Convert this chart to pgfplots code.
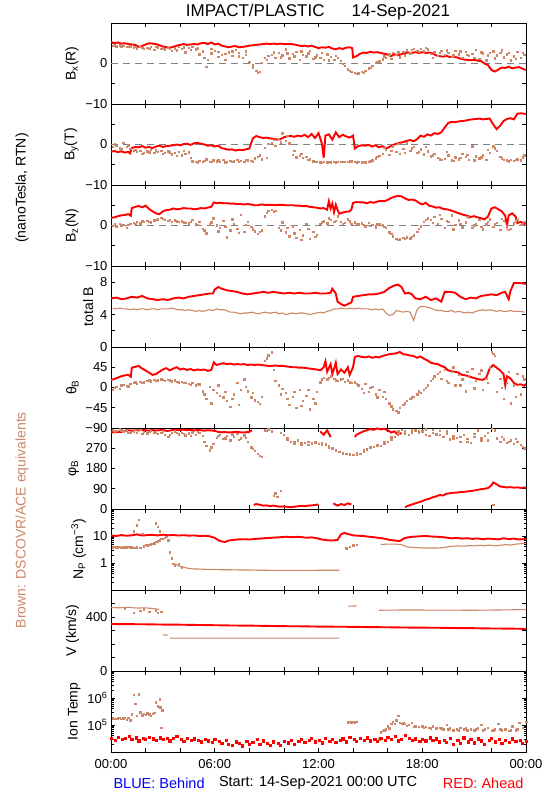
\documentclass[border=0pt]{standalone}
\usepackage{fontspec}
\setmainfont{Liberation Sans}
\usepackage{pgfplots}
\pgfplotsset{compat=1.18}
\definecolor{brn}{RGB}{205,135,105}
\pgfplotsset{
  panel/.style={scale only axis, width=415pt, height=81pt, anchor=north west,
    xmin=0, xmax=24, xtick={0,2,...,24}, xticklabels={},
    tick align=inside, tick pos=both, major tick length=4pt, minor tick length=2.5pt,
    axis line style={line width=0.8pt},
    every tick/.append style={black, line width=0.6pt},
    yticklabel style={font=\fontsize{13}{13}\selectfont},
    xticklabel style={font=\fontsize{13}{13}\selectfont, yshift=-4pt},
    ylabel style={font=\fontsize{14}{14}\selectfont},
    scaled y ticks=false},
  rd/.style={red, line width=1.9pt, line join=miter, unbounded coords=jump},
  bm/.style={brn, only marks, mark=square*, mark size=0.7pt},
  bl/.style={brn, line width=1.1pt, unbounded coords=jump},
  zl/.style={gray, line width=0.8pt, dash pattern=on 7pt off 5pt},
}
\begin{document}
\begin{tikzpicture}
\useasboundingbox (0,0) rectangle (550pt,800pt);
\node[font=\fontsize{17}{17}\selectfont] at (318pt,788pt) {IMPACT/PLASTIC\hspace{1.6em}14-Sep-2021};
\node[rotate=90, font=\fontsize{14}{14}\selectfont] at (22pt,612pt) {(nanoTesla, RTN)};
\node[rotate=90, font=\fontsize{14}{14}\selectfont, text=brn] at (22pt,280pt) {Brown: DSCOVR/ACE equivalents};
\node[anchor=west, font=\fontsize{14.5}{14.5}\selectfont, text=blue] at (110pt,17pt) {BLUE: Behind};
\node[font=\fontsize{14.5}{14.5}\selectfont] at (318pt,17pt) {Start: 14-Sep-2021 00:00 UTC};
\node[anchor=east, font=\fontsize{14.5}{14.5}\selectfont, text=red] at (527pt,17pt) {RED: Ahead};

% ---------- Bx ----------
\begin{axis}[panel, at={(111pt,777pt)}, ymin=-10, ymax=10, ytick={-10,-5,0,5,10}, yticklabels={−10,,0,,}, ylabel={B\textsubscript{x}(R)}]
\addplot[zl] coordinates {(0,0) (24,0)};
\addplot[bm] coordinates {(0.1,4.4)(0.3,4.3)(0.5,4.5)(0.7,4.4)(0.9,4.2)(1.1,4.3)(1.3,4.0)(1.5,3.8)(1.7,4.1)(1.9,3.6)(2.1,3.9)(2.3,4.2)(2.5,3.4)(2.7,4.0)(2.9,3.7)(3.1,3.5)(3.3,3.9)(3.5,3.2)(3.7,3.8)(3.9,4.1)(4.1,3.6)(4.3,2.8)(4.5,3.9)(4.7,4.2)(4.9,3.5)(5.1,2.3)(5.3,3.0)(5.5,-0.8)(5.6,0.9)(5.8,2.5)(6.0,3.2)(6.2,1.7)(6.4,2.2)(6.6,1.0)(6.8,2.8)(7.0,1.9)(7.2,3.4)(7.4,2.6)(7.6,1.5)(7.8,3.0)(8.0,0.5)(8.2,-1.0)(8.4,-1.8)(8.5,-2.3)(8.7,0.2)(8.9,1.5)(9.1,1.9)(9.3,2.2)(9.5,1.4)(9.7,2.7)(9.9,2.0)(10.1,3.5)(10.3,1.3)(10.5,2.4)(10.7,2.9)(10.9,1.0)(11.1,2.1)(11.3,1.8)(11.5,3.1)(11.7,1.2)(11.9,2.0)(12.1,1.5)(12.3,1.0)(12.5,2.3)(12.7,1.7)(12.9,0.9)(13.1,1.4)(13.3,0.7)(13.5,-0.5)(13.7,-1.4)(13.9,-2.0)(14.1,-2.2)(14.3,-2.4)(14.5,-2.1)(14.7,-1.8)(14.9,-1.2)(15.1,-0.6)(15.3,0.2)(15.5,0.6)(15.7,1.1)(15.9,1.5)(16.1,2.3)(16.3,2.6)(16.5,2.1)(16.7,1.6)(16.9,2.9)(17.1,3.3)(17.3,2.5)(17.5,3.6)(17.7,3.2)(17.9,3.7)(18.1,3.0)(18.3,3.5)(18.5,2.4)(18.7,2.8)(18.9,1.9)(19.1,3.1)(19.3,2.2)(19.5,2.6)(19.7,1.7)(19.9,3.2)(20.1,2.3)(20.3,1.5)(20.5,2.9)(20.7,1.9)(20.9,2.4)(21.1,3.4)(21.3,1.2)(21.5,2.5)(21.7,0.8)(21.9,2.7)(22.1,3.0)(22.3,2.0)(22.5,2.6)(22.7,1.6)(22.9,2.3)(23.1,0.8)(23.3,1.8)(23.5,2.9)(23.7,1.5)(23.9,2.2)
(0.2,4.5)(0.6,4.3)(1.0,4.1)(1.4,4.2)(1.8,3.9)(2.2,3.6)(2.6,4.1)(3.0,3.8)(3.4,3.6)(3.8,3.3)(4.2,4.0)(4.6,3.4)(5.0,3.8)(5.4,1.5)(5.8,3.6)(6.2,2.9)(6.6,2.4)(7.0,3.0)(7.4,1.8)(7.8,2.2)(8.2,-0.4)(8.6,-2.0)(9.0,0.9)(9.4,2.8)(9.8,1.6)(10.2,2.5)(10.6,1.8)(11.0,3.0)(11.4,2.5)(11.8,1.6)(12.2,2.6)(12.6,0.8)(13.0,1.9)(13.4,-0.1)(13.8,-1.8)(14.2,-2.5)(14.6,-2.3)(15.0,-1.0)(15.4,0.4)(15.8,1.8)(16.2,1.2)(16.6,2.8)(17.0,2.0)(17.4,3.4)(17.8,2.9)(18.2,3.9)(18.6,1.5)(19.0,2.6)(19.4,3.3)(19.8,2.0)(20.2,3.0)(20.6,2.2)(21.0,1.4)(21.4,2.8)(21.8,2.0)(22.2,1.3)(22.6,3.3)(23.0,2.6)(23.4,1.2)(23.8,2.6)};
\addplot[rd] coordinates {(0,5.3)(0.2,5.0)(0.4,5.2)(0.6,4.9)(0.8,5.0)(1.0,4.8)(1.2,4.7)(1.4,4.6)(1.6,4.1)(1.8,4.3)(2.0,4.7)(2.2,5.0)(2.4,4.9)(2.6,4.8)(2.8,4.5)(3.0,4.2)(3.2,4.0)(3.4,3.9)(3.6,4.1)(3.8,4.4)(4.0,4.6)(4.2,4.8)(4.4,4.6)(4.6,4.7)(4.8,4.8)(5.0,4.7)(5.2,5.0)(5.4,5.1)(5.6,4.8)(5.8,5.2)(6.0,4.7)(6.2,4.9)(6.4,4.4)(6.6,4.2)(6.8,4.0)(7.0,4.2)(7.2,4.3)(7.4,4.0)(7.6,4.1)(7.8,4.2)(8.0,4.4)(8.2,4.5)(8.4,4.6)(8.6,4.7)(8.8,4.8)(9.0,4.9)(9.2,4.8)(9.4,4.9)(9.6,4.8)(9.8,4.9)(10.0,4.8)(10.2,4.8)(10.4,4.8)(10.6,4.7)(10.8,4.5)(11.0,4.3)(11.2,4.4)(11.4,4.2)(11.6,4.4)(11.8,4.1)(12.0,3.8)(12.2,4.0)(12.4,3.9)(12.6,4.1)(12.8,3.7)(13.0,3.5)(13.2,3.8)(13.4,3.6)(13.6,3.9)(13.8,4.0)(13.95,3.8)(14.0,1.5)(14.2,1.8)(14.4,2.4)(14.6,2.7)(14.8,2.6)(15.0,2.9)(15.2,2.7)(15.4,2.8)(15.6,2.6)(15.8,2.4)(16.0,2.2)(16.2,1.8)(16.4,2.3)(16.6,2.0)(16.8,2.3)(17.0,2.6)(17.2,2.7)(17.4,2.6)(17.6,2.8)(17.8,2.6)(18.0,2.8)(18.2,2.6)(18.4,2.7)(18.6,2.5)(18.8,2.0)(19.0,1.8)(19.2,1.7)(19.4,1.9)(19.6,1.6)(19.8,1.7)(20.0,1.5)(20.2,1.2)(20.4,1.0)(20.6,0.9)(20.8,0.8)(21.0,0.9)(21.2,0.7)(21.4,0.6)(21.6,0.0)(21.8,-0.4)(22.0,-1.6)(22.2,-2.0)(22.4,-1.5)(22.6,-1.0)(22.8,-1.1)(23.0,-0.8)(23.2,-1.2)(23.4,-1.0)(23.6,-0.9)(23.8,-1.3)(24.0,-1.6)};
\end{axis}

% ---------- By ----------
\begin{axis}[panel, at={(111pt,696pt)}, ymin=-10, ymax=10, ytick={-10,-5,0,5,10}, yticklabels={−10,,0,,}, ylabel={B\textsubscript{y}(T)}]
\addplot[zl] coordinates {(0,0) (24,0)};
\addplot[bm] coordinates {(0.1,-0.6)(0.3,-0.3)(0.5,-0.9)(0.7,0.4)(0.9,-0.5)(1.1,-1.0)(1.3,-1.5)(1.5,-1.8)(1.7,-1.6)(1.9,-2.0)(2.1,-1.7)(2.3,-1.3)(2.5,-2.1)(2.7,-1.8)(2.9,-1.5)(3.1,-2.0)(3.3,-1.7)(3.5,-2.4)(3.7,-2.1)(3.9,-1.8)(4.1,-2.6)(4.3,-2.2)(4.5,-1.9)(4.7,-4.1)(4.9,-4.3)(5.1,-4.0)(5.3,-4.2)(5.5,-3.6)(5.7,-4.2)(5.9,-3.9)(6.1,-4.1)(6.3,-4.3)(6.5,-3.8)(6.7,-4.2)(6.9,-4.0)(7.1,-4.1)(7.3,-3.7)(7.5,-4.0)(7.7,-4.2)(7.9,-3.9)(8.1,-4.0)(8.3,-3.4)(8.5,-3.0)(8.7,-3.6)(8.9,-0.8)(9.1,0.2)(9.3,0.4)(9.5,-0.3)(9.7,1.5)(9.9,2.8)(10.1,1.0)(10.3,0.3)(10.5,-2.5)(10.7,-3.1)(10.9,-2.7)(11.1,-3.3)(11.3,-3.0)(11.5,-3.6)(11.7,-4.1)(11.9,-4.3)(12.1,-4.4)(12.3,-4.3)(12.5,-4.4)(12.7,-4.4)(12.9,-4.3)(13.1,-4.3)(13.3,-4.2)(13.5,-4.2)(13.7,-4.3)(13.9,-4.1)(14.1,-4.2)(14.3,-4.3)(14.5,-4.4)(14.7,-4.4)(14.9,-4.3)(15.1,-3.9)(15.3,-3.4)(15.5,-2.8)(15.7,-2.2)(15.9,-1.3)(16.1,-2.5)(16.3,-0.4)(16.5,-1.8)(16.7,-2.3)(16.9,-1.0)(17.1,0.3)(17.3,-1.5)(17.5,-0.6)(17.7,-2.0)(17.9,-1.2)(18.1,-2.4)(18.3,-1.7)(18.5,-2.9)(18.7,-2.2)(18.9,-3.3)(19.1,-3.8)(19.3,-3.5)(19.5,-2.6)(19.7,-3.9)(19.9,-3.1)(20.1,-3.6)(20.3,-2.2)(20.5,-3.0)(20.7,-3.7)(20.9,-0.4)(21.1,-2.9)(21.3,-3.4)(21.5,-2.6)(21.7,-3.8)(21.9,-2.1)(22.1,-0.4)(22.3,-1.5)(22.5,-3.0)(22.7,-3.7)(22.9,-3.9)(23.1,-3.8)(23.3,-4.0)(23.5,-3.6)(23.7,-3.9)(23.9,-2.6)
(0.2,0.1)(0.6,-1.2)(1.0,-0.2)(1.4,-1.3)(1.8,-2.3)(2.2,-1.9)(2.6,-1.4)(3.0,-2.3)(3.4,-1.9)(3.8,-2.7)(4.2,-1.6)(4.6,-3.2)(5.0,-4.4)(5.4,-4.0)(5.8,-4.3)(6.2,-3.9)(6.6,-4.4)(7.0,-4.2)(7.4,-4.3)(7.8,-3.8)(8.2,-4.2)(8.6,-2.6)(9.0,-3.2)(9.4,1.2)(9.8,0.6)(10.2,2.2)(10.6,-1.5)(11.0,-2.3)(11.4,-3.8)(11.8,-4.2)(12.2,-4.5)(12.6,-4.3)(13.0,-4.4)(13.4,-4.3)(13.8,-4.1)(14.2,-4.4)(14.6,-4.2)(15.0,-4.1)(15.4,-3.0)(15.8,-0.8)(16.2,-1.6)(16.6,0.2)(17.0,-2.1)(17.4,-0.9)(17.8,-1.8)(18.2,-0.5)(18.6,-2.6)(19.0,-3.6)(19.4,-1.8)(19.8,-4.0)(20.2,-3.3)(20.6,-2.5)(21.0,-3.9)(21.4,-3.1)(21.8,-1.3)(22.2,-0.9)(22.6,-3.4)(23.0,-4.1)(23.4,-3.7)(23.8,-3.1)};
\addplot[rd] coordinates {(0,-1.8)(0.2,-1.6)(0.4,-1.9)(0.6,-1.7)(0.8,-2.0)(1.0,-1.8)(1.1,-2.2)(1.2,-0.9)(1.4,-0.6)(1.6,-0.7)(1.8,-0.4)(2.0,-0.8)(2.2,-0.6)(2.4,-0.9)(2.6,-0.5)(2.8,-0.3)(3.0,-0.6)(3.2,-0.4)(3.4,-0.3)(3.6,-0.2)(3.8,0.0)(4.0,-0.2)(4.2,0.1)(4.4,0.2)(4.6,-0.1)(4.8,0.3)(5.0,0.4)(5.2,0.2)(5.4,0.0)(5.6,-0.3)(5.8,-0.2)(6.0,-0.5)(6.2,-0.3)(6.4,-0.9)(6.6,-1.1)(6.8,-1.3)(7.0,-1.2)(7.2,-1.5)(7.4,-1.3)(7.6,-1.4)(7.8,-1.2)(8.0,-1.0)(8.2,1.5)(8.4,2.1)(8.6,1.8)(8.8,1.6)(9.0,1.7)(9.2,1.5)(9.4,1.4)(9.6,1.2)(9.8,1.3)(10.0,1.8)(10.2,2.0)(10.4,2.1)(10.6,1.9)(10.8,2.2)(11.0,2.0)(11.2,2.4)(11.4,1.8)(11.6,2.6)(11.8,1.6)(12.0,2.8)(12.2,0.2)(12.3,-3.3)(12.4,2.2)(12.6,2.5)(12.8,1.2)(13.0,3.0)(13.2,1.8)(13.4,2.4)(13.6,2.0)(13.8,1.7)(14.0,2.2)(14.1,-1.0)(14.3,-0.4)(14.5,-0.2)(14.7,-0.3)(14.9,-0.1)(15.1,-0.5)(15.3,-0.2)(15.5,-0.7)(15.7,-0.4)(15.9,-1.0)(16.1,-0.6)(16.3,-0.2)(16.5,0.2)(16.7,0.4)(16.9,0.6)(17.1,0.9)(17.3,1.1)(17.5,0.8)(17.7,1.3)(17.9,2.2)(18.1,1.9)(18.3,2.5)(18.5,2.2)(18.7,2.8)(18.9,2.6)(19.1,3.0)(19.3,4.2)(19.5,5.3)(19.7,5.6)(19.9,5.5)(20.1,5.7)(20.3,5.8)(20.5,5.9)(20.7,6.1)(20.9,6.2)(21.1,6.3)(21.3,6.4)(21.5,6.2)(21.7,6.3)(21.9,6.4)(22.1,5.0)(22.3,3.8)(22.5,4.6)(22.7,5.8)(22.9,6.3)(23.1,6.5)(23.3,6.2)(23.5,7.6)(23.7,7.7)(23.9,7.6)(24.0,7.5)};
\end{axis}

% ---------- Bz ----------
\begin{axis}[panel, at={(111pt,615pt)}, ymin=-10, ymax=10, ytick={-10,-5,0,5,10}, yticklabels={−10,,0,,}, ylabel={B\textsubscript{z}(N)}]
\addplot[zl] coordinates {(0,0) (24,0)};
\addplot[bm] coordinates {(0.1,0.0)(0.3,-0.2)(0.5,0.4)(0.7,0.2)(0.9,-0.5)(1.1,0.5)(1.3,0.7)(1.5,0.9)(1.7,0.6)(1.9,1.0)(2.1,1.2)(2.3,0.8)(2.5,1.3)(2.7,1.6)(2.9,1.9)(3.1,1.5)(3.3,1.2)(3.5,1.0)(3.7,1.3)(3.9,0.9)(4.1,1.1)(4.3,0.7)(4.5,0.6)(4.7,1.4)(4.9,0.4)(5.1,0.9)(5.3,-0.8)(5.5,-1.9)(5.7,0.3)(5.9,1.8)(6.1,0.1)(6.3,-0.6)(6.5,1.2)(6.7,-2.9)(6.9,-1.2)(7.1,0.5)(7.3,-0.8)(7.5,2.6)(7.7,-1.5)(7.9,0.9)(8.1,-0.3)(8.3,-1.4)(8.5,-2.0)(8.7,-1.2)(8.9,2.3)(9.1,3.6)(9.3,3.9)(9.5,3.7)(9.7,-0.5)(9.9,0.8)(10.1,-1.7)(10.3,-2.6)(10.5,-0.2)(10.7,-3.0)(10.9,-1.1)(11.1,-2.4)(11.3,0.5)(11.5,-3.3)(11.7,-1.6)(11.9,-2.2)(12.1,0.4)(12.3,1.1)(12.5,0.6)(12.7,1.5)(12.9,0.9)(13.1,2.3)(13.3,1.0)(13.5,0.7)(13.7,1.6)(13.9,0.5)(14.1,0.8)(14.3,0.3)(14.5,0.6)(14.7,-0.2)(14.9,0.7)(15.1,0.2)(15.3,-0.4)(15.5,0.5)(15.7,0.1)(15.9,-0.6)(16.1,-1.7)(16.3,-2.6)(16.5,-3.2)(16.7,-3.4)(16.9,-3.0)(17.1,-2.9)(17.3,-3.1)(17.5,-2.4)(17.7,-1.5)(17.9,-0.2)(18.1,0.9)(18.3,1.8)(18.5,1.4)(18.7,2.2)(18.9,0.4)(19.1,1.7)(19.3,-0.6)(19.5,0.9)(19.7,2.5)(19.9,0.2)(20.1,1.3)(20.3,-0.4)(20.5,0.8)(20.7,1.9)(20.9,-0.6)(21.1,0.5)(21.3,1.4)(21.5,-0.9)(21.7,0.3)(21.9,1.6)(22.1,-0.3)(22.3,0.7)(22.5,-1.1)(22.7,1.2)(22.9,0.0)(23.1,-0.8)(23.3,0.6)(23.5,1.5)(23.7,0.2)(23.9,1.0)
(0.2,0.3)(0.6,0.1)(1.0,0.2)(1.4,0.5)(1.8,1.1)(2.2,1.0)(2.6,1.5)(3.0,1.7)(3.4,1.4)(3.8,1.1)(4.2,0.8)(4.6,1.0)(5.0,0.2)(5.4,-1.2)(5.8,0.8)(6.2,-1.4)(6.6,-0.3)(7.0,1.6)(7.4,-1.8)(7.8,0.2)(8.2,-0.9)(8.6,-1.6)(9.0,3.1)(9.4,3.4)(9.8,-1.2)(10.2,-0.6)(10.6,-1.9)(11.0,-3.5)(11.4,-0.8)(11.8,-2.7)(12.2,0.8)(12.6,1.8)(13.0,1.2)(13.4,0.4)(13.8,1.1)(14.2,0.5)(14.6,0.2)(15.0,-0.1)(15.4,0.3)(15.8,-0.3)(16.2,-2.1)(16.6,-3.5)(17.0,-3.2)(17.4,-2.7)(17.8,-0.8)(18.2,1.4)(18.6,0.7)(19.0,2.6)(19.4,1.2)(19.8,-0.9)(20.2,0.5)(20.6,2.2)(21.0,0.1)(21.4,-0.3)(21.8,1.0)(22.2,0.3)(22.6,1.7)(23.0,-1.0)(23.4,1.1)(23.8,0.5)};
\addplot[rd] coordinates {(0,1.9)(0.2,2.0)(0.4,2.3)(0.6,2.5)(0.8,2.6)(1.0,2.8)(1.15,2.4)(1.2,4.3)(1.4,4.6)(1.6,4.8)(1.8,4.5)(2.0,4.9)(2.2,4.1)(2.4,3.5)(2.6,3.0)(2.8,2.8)(3.0,3.5)(3.2,3.8)(3.4,3.9)(3.6,4.2)(3.8,4.0)(4.0,4.1)(4.2,4.3)(4.4,4.2)(4.6,4.2)(4.8,4.0)(5.0,4.1)(5.2,4.3)(5.4,4.2)(5.6,4.4)(5.8,4.6)(5.95,5.7)(6.1,5.5)(6.3,5.6)(6.5,5.5)(6.7,5.5)(6.9,5.4)(7.1,5.4)(7.3,5.3)(7.5,5.3)(7.7,5.2)(7.9,5.3)(8.1,5.2)(8.3,5.0)(8.5,5.0)(8.7,5.2)(8.9,5.1)(9.1,5.1)(9.3,5.1)(9.5,5.0)(9.7,5.1)(9.9,5.1)(10.1,5.0)(10.3,5.0)(10.5,5.0)(10.7,4.9)(10.9,4.9)(11.1,4.8)(11.3,4.8)(11.5,4.6)(11.7,4.5)(11.9,4.4)(12.1,4.2)(12.3,4.3)(12.5,3.9)(12.6,6.0)(12.7,4.2)(12.8,5.4)(12.9,3.3)(13.0,5.1)(13.1,3.9)(13.2,2.9)(13.4,3.2)(13.6,3.4)(13.8,3.5)(13.9,3.9)(14.0,5.6)(14.2,5.8)(14.4,5.7)(14.6,5.7)(14.8,5.5)(15.0,5.8)(15.2,5.6)(15.4,5.9)(15.6,6.1)(15.8,6.0)(16.0,6.3)(16.2,6.8)(16.4,7.1)(16.6,7.3)(16.8,7.2)(17.0,6.7)(17.2,6.3)(17.4,6.4)(17.6,6.2)(17.8,5.6)(18.0,5.2)(18.2,5.6)(18.4,4.9)(18.6,4.7)(18.8,4.4)(19.0,4.5)(19.2,4.1)(19.4,4.0)(19.6,3.8)(19.8,3.5)(20.0,3.2)(20.2,2.9)(20.4,2.6)(20.6,2.4)(20.8,2.1)(21.0,2.3)(21.2,2.0)(21.4,1.8)(21.6,1.5)(21.8,2.2)(22.0,4.2)(22.2,4.5)(22.4,4.0)(22.6,3.5)(22.8,2.4)(22.9,0.0)(23.0,2.5)(23.2,3.0)(23.4,2.2)(23.5,0.6)(23.7,0.9)(23.9,0.3)(24.0,0.8)};
\end{axis}

% ---------- total B ----------
\begin{axis}[panel, at={(111pt,534pt)}, ymin=0, ymax=10, ytick={0,2,4,6,8,10}, yticklabels={0,,4,,8,}, ylabel={total B}]
\addplot[bl] coordinates {(0.1,4.8)(0.3,4.7)(0.5,4.8)(0.7,4.7)(0.9,4.7)(1.1,4.6)(1.3,4.7)(1.5,4.6)(1.7,4.7)(1.9,4.7)(2.1,4.6)(2.3,4.7)(2.5,4.7)(2.7,4.6)(2.9,4.7)(3.1,4.7)(3.3,4.7)(3.5,4.8)(3.7,4.7)(3.9,4.6)(4.1,4.6)(4.3,4.5)(4.5,4.6)(4.7,4.5)(4.9,4.4)(5.1,4.5)(5.3,4.4)(5.5,4.5)(5.7,4.6)(5.9,4.5)(6.1,4.7)(6.3,4.6)(6.5,4.6)(6.7,4.5)(6.9,4.3)(7.1,4.3)(7.3,4.2)(7.5,4.1)(7.7,4.2)(7.9,4.2)(8.1,4.3)(8.3,4.2)(8.5,4.1)(8.7,4.2)(8.9,4.3)(9.1,4.2)(9.3,4.2)(9.5,4.3)(9.7,4.1)(9.9,4.2)(10.1,4.0)(10.3,4.1)(10.5,4.2)(10.7,4.1)(10.9,4.2)(11.1,4.2)(11.3,4.1)(11.5,4.0)(11.7,4.1)(11.9,4.2)(12.1,4.3)(12.3,4.2)(12.5,4.4)(12.7,4.5)(12.9,4.7)(13.1,4.7)(13.3,4.8)(13.5,4.7)(13.7,4.7)(13.9,4.8)(14.1,4.7)(14.3,4.8)(14.5,4.7)(14.7,4.7)(14.9,4.7)(15.1,4.6)(15.3,4.7)(15.5,4.6)(15.7,4.7)(15.9,4.2)(16.1,3.9)(16.3,4.0)(16.5,4.5)(16.7,4.4)(16.9,4.3)(17.1,4.4)(17.3,4.3)(17.5,3.3)(17.7,4.6)(17.9,5.0)(18.1,5.0)(18.3,4.9)(18.5,4.8)(18.7,4.6)(18.9,4.5)(19.1,4.5)(19.3,4.4)(19.5,4.4)(19.7,4.5)(19.9,4.3)(20.1,4.4)(20.3,4.3)(20.5,4.2)(20.7,4.3)(20.9,4.2)(21.1,4.4)(21.3,4.5)(21.5,4.6)(21.7,4.5)(21.9,4.6)(22.1,4.5)(22.3,4.4)(22.5,4.5)(22.7,4.4)(22.9,4.4)(23.1,4.5)(23.3,4.4)(23.5,4.4)(23.7,4.4)(23.9,4.3)};
\addplot[rd] coordinates {(0,6.0)(0.3,6.1)(0.6,5.9)(0.9,6.0)(1.2,6.2)(1.5,6.1)(1.8,6.3)(2.1,6.0)(2.4,5.9)(2.7,5.8)(3.0,5.9)(3.3,5.8)(3.6,6.0)(3.9,6.1)(4.2,6.0)(4.5,6.2)(4.8,6.3)(5.1,6.4)(5.4,6.5)(5.7,6.6)(5.9,6.6)(6.0,7.1)(6.2,7.4)(6.4,7.2)(6.7,7.0)(7.0,6.9)(7.3,6.8)(7.6,6.6)(7.9,6.5)(8.2,6.6)(8.5,6.7)(8.8,6.8)(9.1,6.7)(9.4,6.8)(9.7,6.7)(10.0,6.6)(10.3,6.7)(10.6,6.6)(10.9,6.7)(11.2,6.6)(11.5,6.6)(11.8,6.7)(12.1,6.6)(12.4,6.6)(12.7,6.7)(12.8,7.2)(13.0,6.6)(13.1,5.6)(13.3,5.3)(13.5,5.1)(13.7,5.3)(13.9,5.5)(14.0,6.2)(14.3,6.3)(14.6,6.4)(14.9,6.5)(15.2,6.5)(15.5,6.6)(15.8,6.8)(16.1,7.3)(16.4,7.6)(16.6,7.7)(16.8,7.4)(17.0,6.6)(17.2,6.7)(17.4,6.5)(17.6,6.0)(17.9,5.9)(18.2,6.2)(18.5,5.8)(18.8,6.0)(19.1,5.6)(19.3,6.8)(19.6,6.8)(19.9,6.7)(20.2,6.2)(20.5,5.9)(20.8,6.1)(21.1,6.0)(21.4,6.3)(21.7,6.4)(22.0,6.5)(22.3,6.4)(22.6,6.7)(22.8,6.8)(23.0,5.9)(23.1,6.9)(23.3,7.9)(23.6,7.9)(24.0,7.8)};
\end{axis}

% ---------- theta ----------
\begin{axis}[panel, at={(111pt,453pt)}, ymin=-90, ymax=90, ytick={-90,-45,0,45,90}, yticklabels={−90,−45,0,45,}, ylabel={θ\textsubscript{B}}]
\addplot[bm] coordinates {(0.1,-5)(0.3,2)(0.5,-3)(0.7,6)(0.9,4)(1.1,8)(1.3,10)(1.5,9)(1.7,13)(1.9,12)(2.1,15)(2.3,14)(2.5,17)(2.7,16)(2.9,18)(3.1,15)(3.3,17)(3.5,14)(3.7,16)(3.9,12)(4.1,13)(4.3,10)(4.5,8)(4.7,11)(4.9,5)(5.1,7)(5.3,-8)(5.5,-25)(5.7,2)(5.9,-5)(6.1,-12)(6.3,-18)(6.5,-22)(6.7,-30)(6.9,-43)(7.1,-15)(7.3,10)(7.5,-5)(7.7,18)(7.9,-8)(8.1,-22)(8.3,-28)(8.5,-32)(8.7,-20)(8.9,60)(9.1,72)(9.3,78)(9.5,15)(9.7,5)(9.9,-3)(10.1,-12)(10.3,-38)(10.5,-20)(10.7,-45)(10.9,-5)(11.1,-30)(11.3,-18)(11.5,-48)(11.7,-25)(11.9,-10)(12.1,12)(12.3,22)(12.5,18)(12.7,25)(12.9,20)(13.1,15)(13.3,18)(13.5,13)(13.7,16)(13.9,10)(14.1,12)(14.3,5)(14.5,-3)(14.7,8)(14.9,-10)(15.1,2)(15.3,-15)(15.5,-5)(15.7,-20)(15.9,-25)(16.1,-35)(16.3,-48)(16.5,-52)(16.7,-45)(16.9,-38)(17.1,-30)(17.3,-25)(17.5,-20)(17.7,-15)(17.9,-12)(18.1,-5)(18.3,5)(18.5,15)(18.7,25)(18.9,30)(19.1,20)(19.3,40)(19.5,10)(19.7,35)(19.9,5)(20.1,28)(20.3,18)(20.5,-8)(20.7,25)(20.9,42)(21.1,15)(21.3,30)(21.5,-5)(21.7,20)(21.9,45)(22.0,80)(22.1,75)(22.3,-10)(22.5,20)(22.7,-25)(22.9,10)(23.1,-35)(23.3,5)(23.5,30)(23.7,-15)(23.9,18)
(0.2,0)(0.6,5)(1.0,3)(1.4,12)(1.8,10)(2.2,16)(2.6,15)(3.0,17)(3.4,16)(3.8,13)(4.2,11)(4.6,6)(5.0,9)(5.4,-15)(5.8,-35)(6.2,5)(6.6,-10)(7.0,-25)(7.4,-38)(7.8,2)(8.2,-12)(8.6,-36)(9.0,65)(9.4,40)(9.8,-15)(10.2,-25)(10.6,-10)(11.0,-40)(11.4,-5)(11.8,-35)(12.2,18)(12.6,22)(13.0,16)(13.4,20)(13.8,12)(14.2,8)(14.6,-12)(15.0,0)(15.4,-22)(15.8,-10)(16.2,-42)(16.6,-55)(17.0,-35)(17.4,-22)(17.8,-8)(18.2,0)(18.6,20)(19.0,35)(19.4,15)(19.8,45)(20.2,5)(20.6,35)(21.0,-2)(21.4,38)(21.8,10)(22.2,70)(22.6,0)(23.0,35)(23.4,-20)(23.8,25)};
\addplot[rd] coordinates {(0,17)(0.2,19)(0.4,22)(0.6,25)(0.8,27)(1.0,28)(1.15,24)(1.2,44)(1.4,46)(1.6,48)(1.8,42)(2.0,38)(2.2,33)(2.4,28)(2.6,30)(2.8,35)(3.0,40)(3.2,43)(3.4,38)(3.6,42)(3.8,45)(4.0,40)(4.2,42)(4.4,39)(4.6,41)(4.8,38)(5.0,40)(5.2,39)(5.4,40)(5.6,37)(5.8,39)(5.95,56)(6.1,50)(6.3,52)(6.5,54)(6.7,52)(6.9,53)(7.1,51)(7.3,52)(7.5,51)(7.7,52)(7.9,50)(8.1,51)(8.3,50)(8.5,51)(8.7,50)(8.9,49)(9.1,48)(9.3,48)(9.5,49)(9.7,48)(9.9,48)(10.1,47)(10.3,46)(10.5,45)(10.7,45)(10.9,44)(11.1,44)(11.3,43)(11.5,42)(11.7,41)(11.9,40)(12.1,38)(12.3,45)(12.4,58)(12.5,35)(12.7,52)(12.8,30)(12.9,42)(13.0,55)(13.1,30)(13.3,40)(13.5,33)(13.7,45)(13.8,28)(14.0,45)(14.1,68)(14.3,70)(14.5,68)(14.7,67)(14.9,69)(15.1,66)(15.3,68)(15.5,67)(15.7,70)(15.9,72)(16.1,74)(16.3,75)(16.5,76)(16.7,79)(16.9,74)(17.1,73)(17.3,71)(17.5,70)(17.7,66)(17.9,69)(18.1,64)(18.3,60)(18.5,55)(18.7,53)(18.9,52)(19.1,48)(19.3,45)(19.5,38)(19.7,36)(19.9,35)(20.1,33)(20.3,28)(20.5,27)(20.7,25)(20.9,22)(21.1,20)(21.3,18)(21.5,17)(21.7,22)(21.9,42)(22.1,50)(22.3,44)(22.5,38)(22.7,30)(22.8,5)(22.9,25)(23.1,20)(23.3,10)(23.5,6)(23.7,7)(23.9,4)(24.0,8)};
\end{axis}

% ---------- phi ----------
\begin{axis}[panel, at={(111pt,372pt)}, ymin=0, ymax=360, ytick={0,90,180,270,360}, yticklabels={0,90,180,270,}, ylabel={φ\textsubscript{B}}]
\addplot[bm] coordinates {(0.1,352)(0.3,348)(0.5,355)(0.7,345)(0.9,350)(1.1,340)(1.3,346)(1.5,338)(1.7,352)(1.9,343)(2.1,336)(2.3,348)(2.5,342)(2.7,334)(2.9,340)(3.1,330)(3.3,322)(3.5,338)(3.7,345)(3.9,332)(4.1,340)(4.3,328)(4.5,336)(4.7,342)(4.9,330)(5.1,338)(5.3,325)(5.5,280)(5.7,262)(5.9,290)(6.1,318)(6.3,330)(6.5,312)(6.7,325)(6.9,305)(7.1,320)(7.3,335)(7.5,315)(7.7,328)(7.9,300)(8.1,275)(8.3,260)(8.5,245)(8.7,232)(8.9,350)(9.1,355)(9.3,345)(9.5,70)(9.6,55)(9.8,80)(10.0,330)(10.2,315)(10.4,298)(10.6,290)(10.8,305)(11.0,285)(11.2,295)(11.4,300)(11.6,292)(11.8,296)(12.0,290)(12.2,293)(12.4,288)(12.6,280)(12.8,270)(13.0,262)(13.2,255)(13.4,250)(13.6,247)(13.8,243)(14.0,240)(14.2,242)(14.4,245)(14.6,255)(14.8,265)(15.0,272)(15.2,276)(15.4,280)(15.6,282)(15.8,290)(16.0,300)(16.2,310)(16.4,320)(16.6,335)(16.8,352)(17.0,345)(17.2,330)(17.4,340)(17.6,350)(17.8,338)(18.0,345)(18.2,355)(18.4,325)(18.6,340)(18.8,332)(19.0,348)(19.2,320)(19.4,335)(19.6,310)(19.8,325)(20.0,318)(20.2,300)(20.4,330)(20.6,312)(20.8,295)(21.0,320)(21.2,350)(21.4,305)(21.6,325)(21.8,340)(22.0,356)(22.1,20)(22.3,315)(22.5,300)(22.7,310)(22.9,295)(23.1,305)(23.3,290)(23.5,300)(23.7,285)(23.9,270)
(0.2,345)(0.6,350)(1.0,338)(1.4,352)(1.8,335)(2.2,344)(2.6,338)(3.0,345)(3.4,330)(3.8,340)(4.2,335)(4.6,325)(5.0,344)(5.4,300)(5.8,275)(6.2,325)(6.6,315)(7.0,332)(7.4,308)(7.8,318)(8.2,268)(8.6,238)(9.0,348)(9.4,60)(9.8,340)(10.2,310)(10.6,300)(11.0,292)(11.4,286)(11.8,300)(12.2,285)(12.6,275)(13.0,258)(13.4,246)(13.8,240)(14.2,250)(14.6,262)(15.0,278)(15.4,285)(15.8,298)(16.2,322)(16.6,345)(17.0,335)(17.4,350)(17.8,345)(18.2,330)(18.6,352)(19.0,330)(19.4,345)(19.8,315)(20.2,320)(20.6,300)(21.0,335)(21.4,318)(21.8,305)(22.2,350)(22.6,320)(23.0,300)(23.4,312)(23.8,278)};
\addplot[rd] coordinates {(0,342)(0.2,340)(0.4,343)(0.6,341)(0.8,348)(1.0,350)(1.2,348)(1.4,351)(1.6,349)(1.8,352)(2.0,350)(2.2,348)(2.4,351)(2.6,349)(2.8,350)(3.0,352)(3.2,347)(3.4,348)(3.6,352)(3.8,350)(4.0,351)(4.2,353)(4.4,350)(4.6,352)(4.8,349)(5.0,351)(5.2,350)(5.4,348)(5.6,350)(5.8,349)(6.0,347)(6.2,343)(6.4,341)(6.6,342)(6.8,340)(7.0,341)(7.2,343)(7.4,342)(7.6,340)(7.8,341)(8.0,343)(8.15,350)(8.2,nan)(8.25,18)(8.4,22)(8.6,19)(8.8,15)(9.0,16)(9.2,13)(9.4,15)(9.6,12)(9.8,10)(10.0,12)(10.2,9)(10.4,8)(10.6,10)(10.8,12)(11.0,14)(11.2,13)(11.4,15)(11.6,16)(11.8,18)(12.0,20)(12.05,nan)(12.1,345)(12.3,330)(12.5,350)(12.7,320)(12.8,nan)(12.85,25)(13.1,15)(13.3,22)(13.5,18)(13.7,25)(13.9,20)(14.0,nan)(14.1,320)(14.2,330)(14.4,338)(14.6,345)(14.8,350)(15.0,355)(15.2,352)(15.4,358)(15.6,354)(15.8,356)(16.0,350)(16.2,340)(16.4,345)(16.6,330)(16.8,338)(16.9,nan)(17.0,8)(17.2,15)(17.4,20)(17.6,25)(17.8,30)(18.0,35)(18.2,42)(18.4,45)(18.6,52)(18.8,56)(19.0,62)(19.2,60)(19.4,68)(19.6,70)(19.8,72)(20.0,73)(20.2,75)(20.4,76)(20.6,78)(20.8,80)(21.0,82)(21.2,85)(21.4,88)(21.6,90)(21.8,93)(22.0,105)(22.1,118)(22.3,110)(22.5,100)(22.7,98)(22.9,96)(23.1,97)(23.3,95)(23.5,96)(23.7,94)(23.9,95)(24.0,96)};
\end{axis}

% ---------- Np ----------
\begin{axis}[panel, at={(111pt,291pt)}, ymode=log, ymin=0.1, ymax=100, ytick={0.1,1,10,100}, yticklabels={,1,10,}, minor ytick={0.2,0.3,0.4,0.5,0.6,0.7,0.8,0.9,2,3,4,5,6,7,8,9,20,30,40,50,60,70,80,90}, ylabel={N\textsubscript{P} (cm\textsuperscript{−3})}]
\addplot[bm] coordinates {(0.1,3.9)(0.3,3.8)(0.5,4.0)(0.7,3.9)(0.9,3.8)(1.1,3.9)(1.3,3.7)(1.5,3.9)(1.7,3.6)(1.9,4.2)(2.1,4.5)(2.3,5.0)(2.5,5.5)(2.7,6.5)(2.9,7.8)(3.1,8.5)(3.3,7.0)(1.3,15)(1.5,25)(1.6,40)(1.8,12)(2.6,30)(2.7,22)(2.8,15)(3.4,2.5)(3.5,1.5)(3.2,9.5)(0.2,4.1)(0.6,3.7)(1.0,4.0)(2.0,4.8)(2.4,5.2)(3.6,0.95)(3.7,0.8)(3.9,0.9)(4.1,0.7)(13.6,3.5)(13.8,4.0)(14.0,4.5)(14.2,4.8)(0.4,3.9)(0.8,3.8)(1.2,3.8)(1.4,3.7)(2.2,4.7)(2.6,6.0)(2.8,7.0)(3.0,8.0)};
\addplot[bl] coordinates {(3.6,0.95)(3.8,0.85)(4.0,0.75)(4.2,0.7)(4.4,0.65)(4.6,0.62)(4.8,0.6)(5.0,0.6)(5.5,0.58)(6.0,0.57)(6.5,0.56)(7.0,0.56)(7.5,0.55)(8.0,0.55)(8.5,0.54)(9.0,0.54)(9.5,0.53)(10.0,0.53)(10.5,0.53)(11.0,0.53)(11.5,0.53)(12.0,0.54)(12.5,0.54)(13.2,0.54)(13.25,nan)(15.6,4.8)(15.9,5.0)(16.2,5.0)(16.5,5.0)(16.8,4.8)(17.1,4.0)(17.4,3.8)(17.7,3.7)(18.0,3.6)(18.3,3.6)(18.6,3.6)(18.9,3.6)(19.2,3.7)(19.5,4.0)(19.8,4.2)(20.1,4.3)(20.4,4.2)(20.7,4.4)(21.0,4.3)(21.3,4.5)(21.6,4.4)(21.9,4.6)(22.2,4.3)(22.5,4.5)(22.8,4.8)(23.1,4.6)(23.4,5.0)(23.7,5.2)(24.0,5.5)};
\addplot[rd] coordinates {(0,10.5)(0.3,10.0)(0.6,10.8)(0.9,10.2)(1.2,10.6)(1.5,11.5)(1.8,10.4)(2.1,10.8)(2.4,11.0)(2.7,10.5)(3.0,11.2)(3.3,10.6)(3.6,10.9)(3.9,10.4)(4.2,10.7)(4.5,10.3)(4.8,10.5)(5.1,10.0)(5.4,10.2)(5.7,9.8)(6.0,8.5)(6.2,7.0)(6.4,6.3)(6.6,6.0)(6.8,6.8)(7.1,7.2)(7.4,7.5)(7.7,7.6)(8.0,7.4)(8.3,7.8)(8.6,8.0)(8.9,8.3)(9.2,8.5)(9.5,8.8)(9.8,9.0)(10.1,9.4)(10.4,9.0)(10.7,9.3)(11.0,9.1)(11.3,8.6)(11.6,8.9)(11.9,8.3)(12.2,7.4)(12.5,7.0)(12.8,6.8)(13.1,7.2)(13.3,11.5)(13.5,13.0)(13.7,11.8)(14.0,10.6)(14.3,10.2)(14.6,10.0)(14.9,9.4)(15.2,9.0)(15.5,8.5)(15.8,8.0)(16.1,7.2)(16.4,6.8)(16.7,6.5)(17.0,8.5)(17.3,9.2)(17.6,9.5)(17.9,9.8)(18.2,10.0)(18.5,9.6)(18.8,9.4)(19.1,9.2)(19.4,8.7)(19.7,8.2)(20.0,8.5)(20.3,8.0)(20.6,8.3)(20.9,7.8)(21.2,8.1)(21.5,7.6)(21.8,8.0)(22.1,7.8)(22.4,7.5)(22.7,8.2)(23.0,7.7)(23.3,8.0)(23.6,7.4)(24.0,7.8)};
\end{axis}

% ---------- V ----------
\begin{axis}[panel, at={(111pt,210pt)}, ymin=0, ymax=600, ytick={0,100,200,300,400,500,600}, yticklabels={0,,,,400,,}, ylabel={V (km/s)}]
\addplot[bl] coordinates {(0,470)(0.5,468)(1,472)(1.5,466)(2,468)(2.5,462)(2.8,455)(2.85,nan)(3.0,268)(3.3,265)(3.35,nan)(3.4,244)(6,244)(9,243)(13.2,244)(13.3,nan)(13.7,480)(14.2,482)(14.3,nan)(15.5,450)(17,452)(19,451)(21,450)(22.5,452)(24,455)};
\addplot[bm] coordinates {(1.3,430)(1.7,445)(2.2,440)(2.6,450)(2.7,430)(2.9,440)(0.8,462)(1.9,458)};
\addplot[rd] coordinates {(0,348)(1,347)(2,346)(3,344)(4,343)(5,341)(6,339)(7,337)(8,336)(9,334)(10,332)(11,331)(12,329)(13,328)(14,327)(15,325)(16,324)(17,322)(18,321)(19,320)(20,318)(21,317)(22,315)(23,314)(24,312)};
\end{axis}

% ---------- Ion Temp ----------
\begin{axis}[panel, at={(111pt,129pt)}, ymode=log, ymin=1e4, ymax=1e7, ytick={1e4,1e5,1e6,1e7}, yticklabels={,10\textsuperscript{5},10\textsuperscript{6},}, ylabel={Ion Temp}, xticklabels={00:00,,,06:00,,,12:00,,,18:00,,,00:00}]
\addplot[bm] coordinates {(0.1,1.8e5)(0.3,1.7e5)(0.5,1.9e5)(0.7,1.8e5)(0.9,1.6e5)(1.0,1.9e5)(1.1,1.5e5)(1.2,2.5e5)(1.3,1.3e6)(1.4,6e5)(1.5,2.2e5)(1.6,1.4e6)(1.7,3.0e5)(1.8,2.3e5)(1.9,2.6e5)(2.0,2.4e5)(2.1,2.7e5)(2.2,2.5e5)(2.3,2.2e5)(2.4,2.6e5)(2.5,2.9e5)(2.6,7e5)(2.7,5e5)(2.8,9e5)(2.85,4.5e5)(2.9,8e4)(2.95,3.5e5)(0.2,1.75e5)(0.4,1.8e5)(0.6,1.7e5)(0.8,1.85e5)(13.6,2.5e4)(13.7,1.25e5)(13.8,1.3e5)(13.9,1.25e5)(14.0,1.3e5)(14.1,1.25e5)(14.2,1.3e5)(15.5,3e4)(15.6,5.5e4)(15.7,6e4)(15.8,6.5e4)(15.9,7e4)(16.0,9e4)(16.1,7.5e4)(16.2,1.1e5)(16.3,1.3e5)(16.4,1.1e5)(16.5,1.5e5)(16.6,2.2e5)(16.7,1.2e5)(16.8,1.1e5)(16.9,1.15e5)(17.0,1.1e5)(17.2,1.0e5)(17.4,1.2e5)(17.6,9e4)(17.8,8.5e4)(18.0,9e4)(18.2,8.5e4)(18.4,8e4)(18.6,9e4)(18.8,7.5e4)(19.0,8e4)(19.2,7e4)(19.4,1.0e5)(19.6,7.5e4)(19.8,6.5e4)(20.0,7e4)(20.2,8e4)(20.4,7e4)(20.6,6.5e4)(20.8,7e4)(21.0,6.5e4)(21.2,7.5e4)(21.4,1.0e5)(21.6,7e4)(21.8,8e4)(22.0,6e4)(22.2,7e4)(22.4,1.1e5)(22.6,6.5e4)(22.8,7e4)(23.0,6e4)(23.2,9e4)(23.4,6.5e4)(23.6,1.2e5)(23.8,8e4)(24.0,1.3e5)(17.1,9.5e4)(17.5,8.5e4)(18.1,8e4)(18.5,7.5e4)(19.1,7.5e4)(19.5,7e4)(20.1,6.5e4)(20.5,7.5e4)(21.1,7e4)(21.5,6.5e4)(22.1,6.5e4)(22.5,7e4)(23.1,6.5e4)(23.5,7e4)};
\addplot[red, only marks, mark=square*, mark size=1.1pt] coordinates {(0.0,3.3e4)(0.25,2.7e4)(0.4,3.6e4)(0.65,2.9e4)(0.8,3.2e4)(1.05,3.8e4)(1.2,3.0e4)(1.45,3.4e4)(1.6,2.6e4)(1.85,3.3e4)(2.0,2.9e4)(2.2,3.6e4)(2.45,3.1e4)(2.6,2.7e4)(2.85,3.4e4)(3.0,2.9e4)(3.25,3.2e4)(3.4,2.6e4)(3.6,3.3e4)(3.8,3.9e4)(4.05,3.0e4)(4.2,2.5e4)(4.4,3.2e4)(4.65,2.7e4)(4.8,3.1e4)(5.05,2.8e4)(5.2,2.4e4)(5.45,3.0e4)(5.6,2.6e4)(5.85,2.3e4)(6.0,2.9e4)(6.25,2.5e4)(6.4,2.1e4)(6.65,2.7e4)(6.8,2.0e4)(7.0,1.8e4)(7.25,2.4e4)(7.4,2.1e4)(7.6,1.7e4)(7.85,2.5e4)(8.0,1.9e4)(8.2,2.3e4)(8.45,3.0e4)(8.6,2.0e4)(8.8,2.6e4)(9.05,2.1e4)(9.2,1.8e4)(9.4,2.4e4)(9.65,2.1e4)(9.8,1.8e4)(10.0,2.5e4)(10.25,2.2e4)(10.4,2.8e4)(10.6,2.0e4)(10.85,2.5e4)(11.0,3.0e4)(11.2,2.3e4)(11.45,2.7e4)(11.6,3.2e4)(11.8,2.4e4)(12.05,2.8e4)(12.2,2.2e4)(12.4,3.3e4)(12.65,2.5e4)(12.8,2.9e4)(13.0,2.3e4)(13.25,2.7e4)(13.4,3.1e4)(13.6,2.4e4)(13.8,3.6e4)(14.05,2.9e4)(14.2,2.5e4)(14.4,3.2e4)(14.65,2.8e4)(14.8,3.4e4)(15.0,2.6e4)(15.25,3.0e4)(15.4,2.5e4)(15.6,3.3e4)(15.85,2.8e4)(16.0,3.5e4)(16.2,2.9e4)(16.45,3.8e4)(16.6,2.6e4)(16.8,3.0e4)(17.0,4.2e4)(17.25,3.2e4)(17.4,2.7e4)(17.6,3.1e4)(17.85,2.5e4)(18.0,3.0e4)(18.2,2.6e4)(18.45,3.4e4)(18.6,2.8e4)(18.8,3.1e4)(19.0,2.4e4)(19.25,2.8e4)(19.4,2.3e4)(19.6,3.2e4)(19.8,1.9e4)(20.05,2.7e4)(20.2,2.1e4)(20.4,3.4e4)(20.65,2.4e4)(20.8,2.9e4)(21.0,2.2e4)(21.25,3.1e4)(21.4,2.6e4)(21.6,2.0e4)(21.85,2.8e4)(22.0,3.3e4)(22.2,2.4e4)(22.45,2.9e4)(22.6,2.1e4)(22.8,2.7e4)(23.05,2.3e4)(23.2,3.1e4)(23.4,2.5e4)(23.65,2.8e4)(23.8,2.1e4)(24.0,2.5e4)};
\end{axis}
\end{tikzpicture}
\end{document}
